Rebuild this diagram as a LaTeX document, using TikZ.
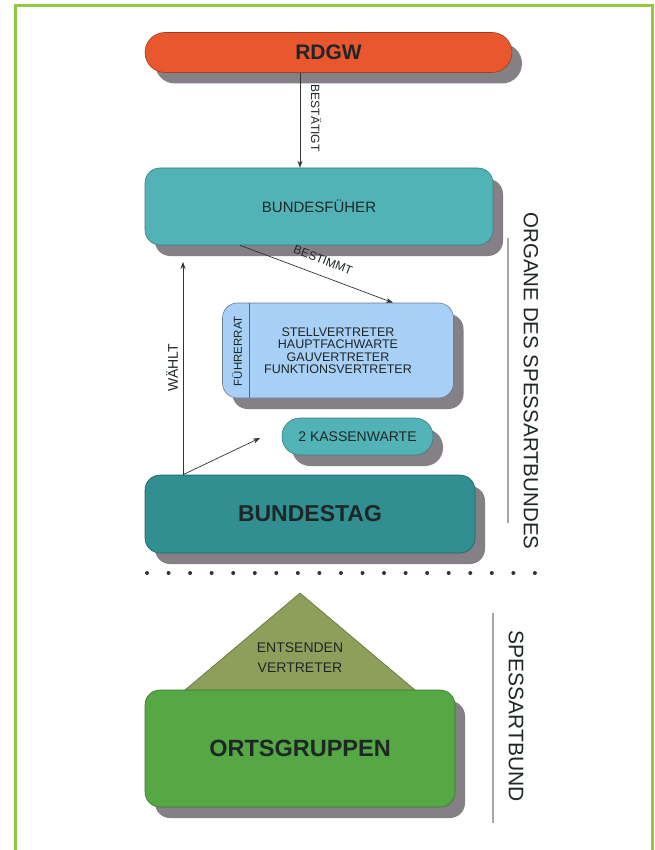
\documentclass[tikz,border=0pt]{standalone}
\usepackage{fontspec}
\usepackage{graphicx}
\setmainfont{Liberation Sans}
\usetikzlibrary{shadows,arrows.meta}
\definecolor{bordergreen}{HTML}{92C846}
\definecolor{rdgwc}{HTML}{E9572F}
\definecolor{tealc}{HTML}{52B3B6}
\definecolor{bluec}{HTML}{A8CFF5}
\definecolor{darkteal}{HTML}{318E91}
\definecolor{olivec}{HTML}{8E9F5B}
\definecolor{greenc}{HTML}{55A843}
\definecolor{shadowc}{HTML}{857F86}
\definecolor{textc}{HTML}{1F2626}
\definecolor{linec}{HTML}{333333}
\newcommand{\fs}[1]{\fontsize{#1}{#1}\selectfont}
\tikzset{
  boxstyle/.style={rectangle, inner sep=0pt, text=textc, line width=0.6pt,
    drop shadow={shadow xshift=10pt, shadow yshift=-11pt, fill=shadowc, opacity=1}},
  conn/.style={draw=linec, line width=0.7pt, -{Stealth[length=7pt,width=5pt]}},
  lbl/.style={text=textc, inner sep=1pt},
  sideline/.style={draw=gray!70, line width=1.2pt}
}
\begin{document}
\begin{tikzpicture}[x=1pt,y=-1pt]
\useasboundingbox (0,0) rectangle (654,850);
\fill[white] (0,0) rectangle (654,850);
% frame
\draw[bordergreen, line width=3pt] (15,852) -- (15,6) -- (652.5,6) -- (652.5,852);

% boxes
\node[boxstyle, fill=rdgwc, draw=rdgwc!70!black, minimum width=367pt, minimum height=40pt,
  rounded corners=20pt, font=\fs{21}\bfseries] (rdgw) at (328.5,52.5) {RDGW};
\node[boxstyle, fill=tealc, draw=tealc!70!black, minimum width=348pt, minimum height=77pt,
  rounded corners=15pt, font=\fs{15}] (bf) at (319,206.5) {BUNDESFÜHER};
\node[boxstyle, fill=bluec, draw=bluec!60!black, minimum width=231pt, minimum height=95pt,
  rounded corners=15pt, font=\fs{12.5}, align=center] (fr) at (338,350.5)
  {\fontsize{12.5}{15}\selectfont STELLVERTRETER\\HAUPTFACHWARTE\\GAUVERTRETER\\FUNKTIONSVERTRETER};
\draw[bluec!50!black, line width=0.6pt] ([xshift=27pt]fr.north west) -- ([xshift=27pt]fr.south west);
\node[lbl, rotate=90, font=\fs{11.5}] (frl) at (237,351) {FÜHRERRAT};
\node[boxstyle, fill=tealc, draw=tealc!70!black, minimum width=151pt, minimum height=37pt,
  rounded corners=18pt, font=\fs{14}] (kw) at (357.5,436.5) {2 KASSENWARTE};
\node[boxstyle, fill=darkteal, draw=darkteal!70!black, minimum width=330pt, minimum height=78pt,
  rounded corners=15pt, font=\fs{23}\bfseries] (bt) at (310,514) {BUNDESTAG};

% triangle
\fill[olivec] (300,593) -- (415,690) -- (185,690) -- cycle;
\draw[olivec!70!black, line width=0.6pt] (185,690) -- (300,593) -- (415,690);
\node[lbl, align=center, font=\fontsize{14}{20}\selectfont] (ent) at (300,658) {ENTSENDEN\\VERTRETER};

\node[boxstyle, fill=greenc, draw=greenc!70!black, minimum width=310pt, minimum height=117pt,
  rounded corners=15pt, font=\fs{23.5}\bfseries] (og) at (300,748.5) {ORTSGRUPPEN};

% connectors
\draw[conn] ([xshift=-28.5pt]rdgw.south) -- ([xshift=-19pt]bf.north);
\node[lbl, rotate=-90, font=\fs{12}] (best) at (316,118) {BESTÄTIGT};
\draw[conn] ([xshift=-79pt]bf.south) -- ([xshift=55pt]fr.north);
\node[lbl, rotate=-21, font=\fs{12}] (bestimmt) at (323,260) {BESTIMMT};
\coordinate (wtop) at (183,262);
\coordinate (ktip) at (260,438);
\draw[conn] ([xshift=-127pt]bt.north) -- (wtop);
\draw[conn] ([xshift=-127pt]bt.north) -- (ktip);
\node[lbl, rotate=90, font=\fs{14}] (waehlt) at (172,368) {WÄHLT};

% dots
\foreach \i in {0,...,18} \fill[linec] (147+\i*21.55,573) circle (2pt);

% side labels
\draw[sideline] (508,238) -- (508,523);
\node[lbl, rotate=-90, font=\fs{20.5}] (organe) at (531,381) {ORGANE DES SPESSARTBUNDES};
\draw[sideline] (493,613) -- (493,823);
\node[lbl, rotate=-90, font=\fs{21}] (sb) at (516,716) {SPESSARTBUND};
\end{tikzpicture}
\end{document}
